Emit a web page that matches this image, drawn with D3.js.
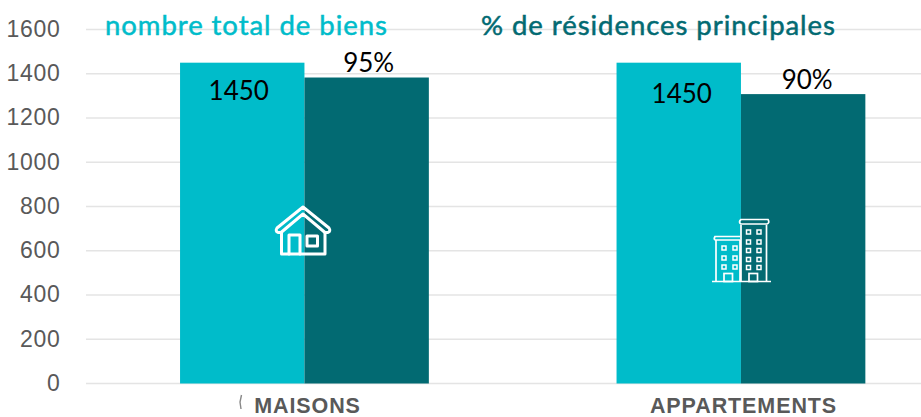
<!DOCTYPE html>
<html><head><meta charset="utf-8">
<script src="https://cdnjs.cloudflare.com/ajax/libs/d3/7.8.5/d3.min.js"></script>
<style>html,body{margin:0;padding:0;background:#fff;overflow:hidden}svg{display:block}</style>
</head><body><svg id="c" width="921" height="417"></svg>
<script>
const categories = ["MAISONS", "APPARTEMENTS"];
const seriesNames = ["nombre total de biens", "% de résidences principales"];
const totalBiens = [1450, 1450];
const residencesPrincipales = [1383, 1308];
const totalLabels = ["1450", "1450"];
const residenceLabels = ["95%", "90%"];
const tickValues = [0, 200, 400, 600, 800, 1000, 1200, 1400, 1600];
const colors = ["#00BCCA", "#026A72"];

const svg = d3.select("#c");
const y = d3.scaleLinear().domain([0, 1600]).range([383.5, 29.5]);
const x0 = d3.scaleBand().domain(categories).range([86.2, 959.2]).paddingInner(0.43).paddingOuter(0.215);
const x1 = d3.scaleBand().domain([0, 1]).range([0, x0.bandwidth()]);

// grid
svg.append("g").selectAll("line").data(tickValues).join("line")
  .attr("x1", 86).attr("x2", 921)
  .attr("y1", d => y(d)).attr("y2", d => y(d))
  .attr("stroke", "#E4E4E4").attr("stroke-width", 1.4);

// y axis
const yAxis = d3.axisLeft(y).tickValues(tickValues).tickSize(0).tickPadding(0).tickFormat(d3.format("d"));
const gy = svg.append("g").attr("transform", "translate(60.5,0)").call(yAxis);
gy.select(".domain").remove();
gy.selectAll("text").attr("font-family", "Liberation Sans").attr("font-size", 23).attr("letter-spacing", 0.7).attr("fill", "#595959").attr("dy", "0.3em");

// bars
const groups = svg.append("g").selectAll("g").data(categories).join("g")
  .attr("transform", d => `translate(${x0(d)},0)`);
[totalBiens, residencesPrincipales].forEach((vals, s) => {
  groups.append("rect")
    .attr("x", x1(s)).attr("width", x1.bandwidth())
    .attr("y", (d, i) => y(vals[i])).attr("height", (d, i) => y(0) - y(vals[i]))
    .attr("fill", colors[s]);
});

// value labels
const lab = (t) => t.attr("font-family", "Lato").attr("font-size", 26).attr("fill", "#000").attr("text-anchor", "middle");
groups.append("text").call(lab).text((d, i) => totalLabels[i])
  .attr("x", (d, i) => x1(0) + x1.bandwidth() / 2 + [-3.5, 3][i])
  .attr("y", (d, i) => y(totalBiens[i]) + [37, 40][i]);
groups.append("text").call(lab).text((d, i) => residenceLabels[i])
  .attr("x", (d, i) => x1(1) + x1.bandwidth() / 2 + [2, 4][i])
  .attr("y", (d, i) => y(residencesPrincipales[i]) + [-6, -5][i]);

// series titles
const titles = [[105, 35, 0], [481, 35, 1]];
svg.append("g").selectAll("text").data(titles).join("text")
  .attr("x", d => d[0]).attr("y", d => d[1])
  .attr("font-family", "Lato").attr("font-size", 27.5).attr("letter-spacing", 0.95)
  .attr("stroke-width", 0.5)
  .attr("fill", d => colors[d[2]]).attr("stroke", d => colors[d[2]]).text(d => seriesNames[d[2]]);

// category labels
svg.append("g").selectAll("text").data(categories).join("text")
  .attr("x", (d, i) => [307.5, 743.5][i]).attr("y", 413)
  .attr("text-anchor", "middle").attr("font-family", "Liberation Sans").attr("font-weight", 700)
  .attr("font-size", 21.5).attr("letter-spacing", 0.9).attr("fill", "#595959").text(d => d);

// stray mark
svg.append("path").attr("d", "M241.5 395 L240 402 L241 409").attr("fill", "none").attr("stroke", "#888").attr("stroke-width", 1.4);

// house icon
const house = svg.append("g").attr("fill", "none").attr("stroke", "#fff").attr("stroke-linejoin", "round").attr("stroke-linecap", "round").attr("stroke-width", 3);
house.append("path").attr("d", "M303 207 L329 228 Q331 231 328 232.5 L325 232.5 L303 214 L281 232.5 L278 232.5 Q275 231 277 228 Z");
house.append("path").attr("d", "M281.5 232.5 V254 H325 V232.5");
house.append("path").attr("d", "M289 254 V235 H300 V254");
house.append("rect").attr("x", 307).attr("y", 236).attr("width", 10.5).attr("height", 10);

// building icon
const bld = svg.append("g").attr("fill", "none").attr("stroke", "#fff").attr("stroke-width", 1.7);
bld.append("path").attr("d", "M712 281.5 H771");
bld.append("path").attr("d", "M716 281.5 V240 M740 240 V281.5 M741 225 V281.5 M766.5 225 V281.5");
bld.append("path").attr("d", "M715 240 Q713.5 239 715 236.5 H740 M715 240 H740");
bld.append("path").attr("d", "M741 224 H767 Q770 223 768 219.5 H741 Q738 222 741 224 Z");
bld.append("rect").attr("x", 724).attr("y", 273.5).attr("width", 8.5).attr("height", 8);
bld.append("rect").attr("x", 749).attr("y", 273.5).attr("width", 8.5).attr("height", 8);
[722, 733].forEach(cx => [246, 256, 265].forEach(cy =>
  bld.append("rect").attr("x", cx).attr("y", cy).attr("width", 4).attr("height", 4).attr("stroke-width", 1.5)));
[746.5, 757].forEach(cx => [230, 240, 248.5, 257.5, 265.5].forEach(cy =>
  bld.append("rect").attr("x", cx).attr("y", cy).attr("width", 4).attr("height", 4).attr("stroke-width", 1.5)));
</script></body></html>
